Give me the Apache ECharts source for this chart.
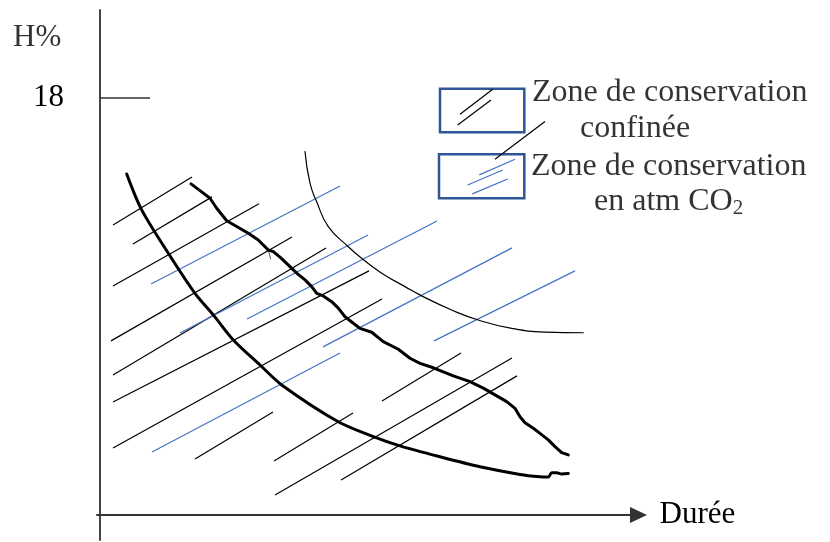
<!DOCTYPE html>
<html>
<head>
<meta charset="utf-8">
<script src="https://cdn.jsdelivr.net/npm/echarts@6.0.0/dist/echarts.min.js"></script>
<style>
  html, body { margin: 0; padding: 0; background: #fff; }
  #chart { width: 830px; height: 542px; }
</style>
</head>
<body>
<div id="chart"></div>
<script>
const FONT = '"Liberation Serif", "Times New Roman", serif'

// hatching segments [x1, y1, x2, y2]  (x = Durée, y = H%)
const hatchConfined = [
  [1.3, 12.51, 9.2, 14.58],
  [3.3, 11.69, 11.2, 13.72],
  [1.3, 9.88, 15.9, 13.42],
  [1.1, 7.51, 19.2, 11.99],
  [1.3, 6.04, 22.6, 11.52],
  [1.3, 4.87, 26.9, 10.53],
  [1.3, 2.89, 28.2, 9.32],
  [9.5, 2.42, 17.3, 4.44],
  [17.4, 2.33, 25.3, 4.40],
  [17.5, 0.86, 41.2, 6.77],
  [24.1, 1.51, 41.7, 6.00],
  [28.2, 4.92, 36.1, 6.99]
]
const hatchCO2 = [
  [5.1, 9.96, 24.0, 14.19],
  [8.0, 7.85, 26.8, 12.08],
  [14.7, 8.45, 33.7, 12.68],
  [5.2, 2.72, 24.0, 6.99],
  [22.3, 7.25, 41.2, 11.52],
  [33.4, 7.51, 47.5, 10.53]
]

// lower smooth curve
const curveLower = [
  [2.67, 14.71], [4.17, 13.16], [6.83, 11.29], [9.5, 9.56], [11.33, 8.63],
  [13.33, 7.55], [16.0, 6.47], [18.17, 5.61], [23.83, 4.02], [27.33, 3.38],
  [30.0, 2.98], [34.0, 2.51], [38.0, 2.08], [42.0, 1.75], [44.0, 1.65],
  [44.83, 1.64], [45.17, 1.82], [45.67, 1.82], [46.17, 1.77], [46.83, 1.79]
]
// upper wavy curve
const curveUpper = [
  [9.1, 14.28], [10.0, 13.99], [11.0, 13.66], [11.67, 13.23], [12.67, 12.69],
  [13.67, 12.44], [14.83, 12.15], [15.83, 11.86], [16.5, 11.57], [16.83, 11.43],
  [17.33, 11.36], [18.0, 11.12], [19.0, 10.71], [19.67, 10.43], [20.5, 10.14],
  [21.17, 9.85], [21.67, 9.56], [22.33, 9.45], [23.17, 9.20], [23.83, 8.92],
  [24.5, 8.55], [25.33, 8.27], [26.0, 8.05], [27.17, 7.88], [28.33, 7.48],
  [29.83, 7.15], [31.0, 6.76], [32.0, 6.54], [33.33, 6.35], [35.33, 6.00],
  [37.0, 5.75], [38.33, 5.47], [39.5, 5.18], [40.67, 4.89], [41.5, 4.60],
  [42.0, 4.24], [42.5, 3.98], [43.33, 3.74], [44.0, 3.52], [44.83, 3.24],
  [45.5, 2.95], [46.17, 2.69], [46.83, 2.59]
]
const penSlip = [[16.83, 11.43, 17.07, 11.03]]
// thin limit arc
const curveLimit = [
  [20.5, 15.67], [21.0, 14.31], [21.67, 13.51], [22.83, 12.44], [24.83, 11.57],
  [26.17, 11.07], [28.17, 10.43], [30.5, 9.85], [32.17, 9.45], [35.17, 8.84],
  [37.83, 8.41], [41.17, 8.05], [44.5, 7.89], [48.33, 7.86]
]

// legend
const legendBoxes = [
  [34.0, 16.51, 42.43, 18.38],
  [33.9, 13.66, 42.43, 15.56]
]
const legendHatchConfined = [
  [36.0, 17.28, 39.27, 18.36],
  [35.77, 16.82, 39.1, 17.90]
]
const legendHatchCO2 = [
  [37.93, 14.67, 41.5, 15.34],
  [36.77, 14.23, 40.27, 14.88],
  [37.23, 13.85, 40.77, 14.49]
]
const legendPointer = [[44.5, 16.97, 39.5, 15.34]]
const legendText = ['Zone de conservation', 'confinée', 'Zone de conservation', '{m|en atm CO}{s|2}']
const legendTextPos = [[43.2, 18.22], [48.0, 16.66], [43.1, 15.01], [49.4, 13.50]]

const yTickValues = [18]
const yName = 'H%'
const yNamePos = [-8.7, 20.58]
const xName = 'Durée'

const toLines = segs => segs.map(s => ({ coords: [[s[0], s[1]], [s[2], s[3]]] }))

function segments (data, color, width) {
  return {
    type: 'lines',
    coordinateSystem: 'cartesian2d',
    data: toLines(data),
    silent: true,
    lineStyle: { color: color, width: width, opacity: 1, curveness: 0 }
  }
}

function curve (data, width, smooth) {
  return {
    type: 'line',
    data: data,
    smooth: smooth,
    symbol: 'none',
    silent: true,
    lineStyle: { color: '#000', width: width, cap: 'round', join: 'round' }
  }
}

const textStyle = { fontFamily: FONT, color: '#000' }

const labelData = legendText.map((t, i) => ({
  value: legendTextPos[i],
  label: {
    formatter: t,
    fontSize: 32,
    rich: {
      m: Object.assign({ fontSize: 32 }, textStyle),
      s: Object.assign({ fontSize: 21, verticalAlign: 'bottom', padding: [12, 0, 0, 0] }, textStyle)
    }
  }
}))
labelData.push({ value: yNamePos, label: { formatter: yName, fontSize: 31 } })

const chart = echarts.init(document.getElementById('chart'))
chart.setOption({
  animation: false,
  backgroundColor: '#fff',
  grid: { left: 97, right: 191.5, top: 10, bottom: 2 },
  xAxis: {
    type: 'value',
    min: -0.3,
    max: 53.85,
    name: xName,
    nameLocation: 'end',
    nameGap: 21,
    nameTextStyle: Object.assign({ fontSize: 31, align: 'left', verticalAlign: 'middle' }, textStyle),
    axisLine: {
      onZero: true,
      symbol: ['none', 'triangle'],
      symbolSize: [16, 17],
      lineStyle: { color: '#333', width: 2 }
    },
    axisTick: { show: false },
    axisLabel: { show: false },
    splitLine: { show: false }
  },
  yAxis: {
    type: 'value',
    min: -1.078,
    max: 21.78,
    axisLine: { onZero: true, lineStyle: { color: '#444', width: 2 } },
    axisTick: {
      show: true,
      customValues: yTickValues,
      inside: true,
      length: 50,
      lineStyle: { color: '#333', width: 1.5 }
    },
    axisLabel: Object.assign({
      customValues: yTickValues,
      fontSize: 31,
      margin: 33,
      padding: [0, 0, 16, 0]
    }, textStyle),
    splitLine: { show: false }
  },
  series: [
    segments(hatchConfined, '#000', 1.2),
    segments(hatchCO2, '#4472C4', 1.2),
    curve(curveLimit, 1.2, true),
    curve(curveLower, 3, 0.3),
    curve(curveUpper, 3, false),
    segments(penSlip, '#555', 1),
    {
      type: 'custom',
      silent: true,
      data: legendBoxes,
      encode: { x: [0, 2], y: [1, 3] },
      renderItem: (params, api) => {
        const p1 = api.coord([api.value(0), api.value(3)])
        const p2 = api.coord([api.value(2), api.value(1)])
        return {
          type: 'rect',
          shape: { x: p1[0], y: p1[1], width: p2[0] - p1[0], height: p2[1] - p1[1] },
          style: { fill: 'none', stroke: '#2F5597', lineWidth: 2.5 }
        }
      }
    },
    segments(legendHatchConfined, '#000', 1.2),
    segments(legendHatchCO2, '#4472C4', 1.2),
    segments(legendPointer, '#000', 1.2),
    {
      type: 'scatter',
      clip: false,
      silent: true,
      symbolSize: 0,
      data: labelData,
      label: Object.assign({ show: true, position: 'right', distance: 0 }, textStyle)
    }
  ]
})
</script>
</body>
</html>
